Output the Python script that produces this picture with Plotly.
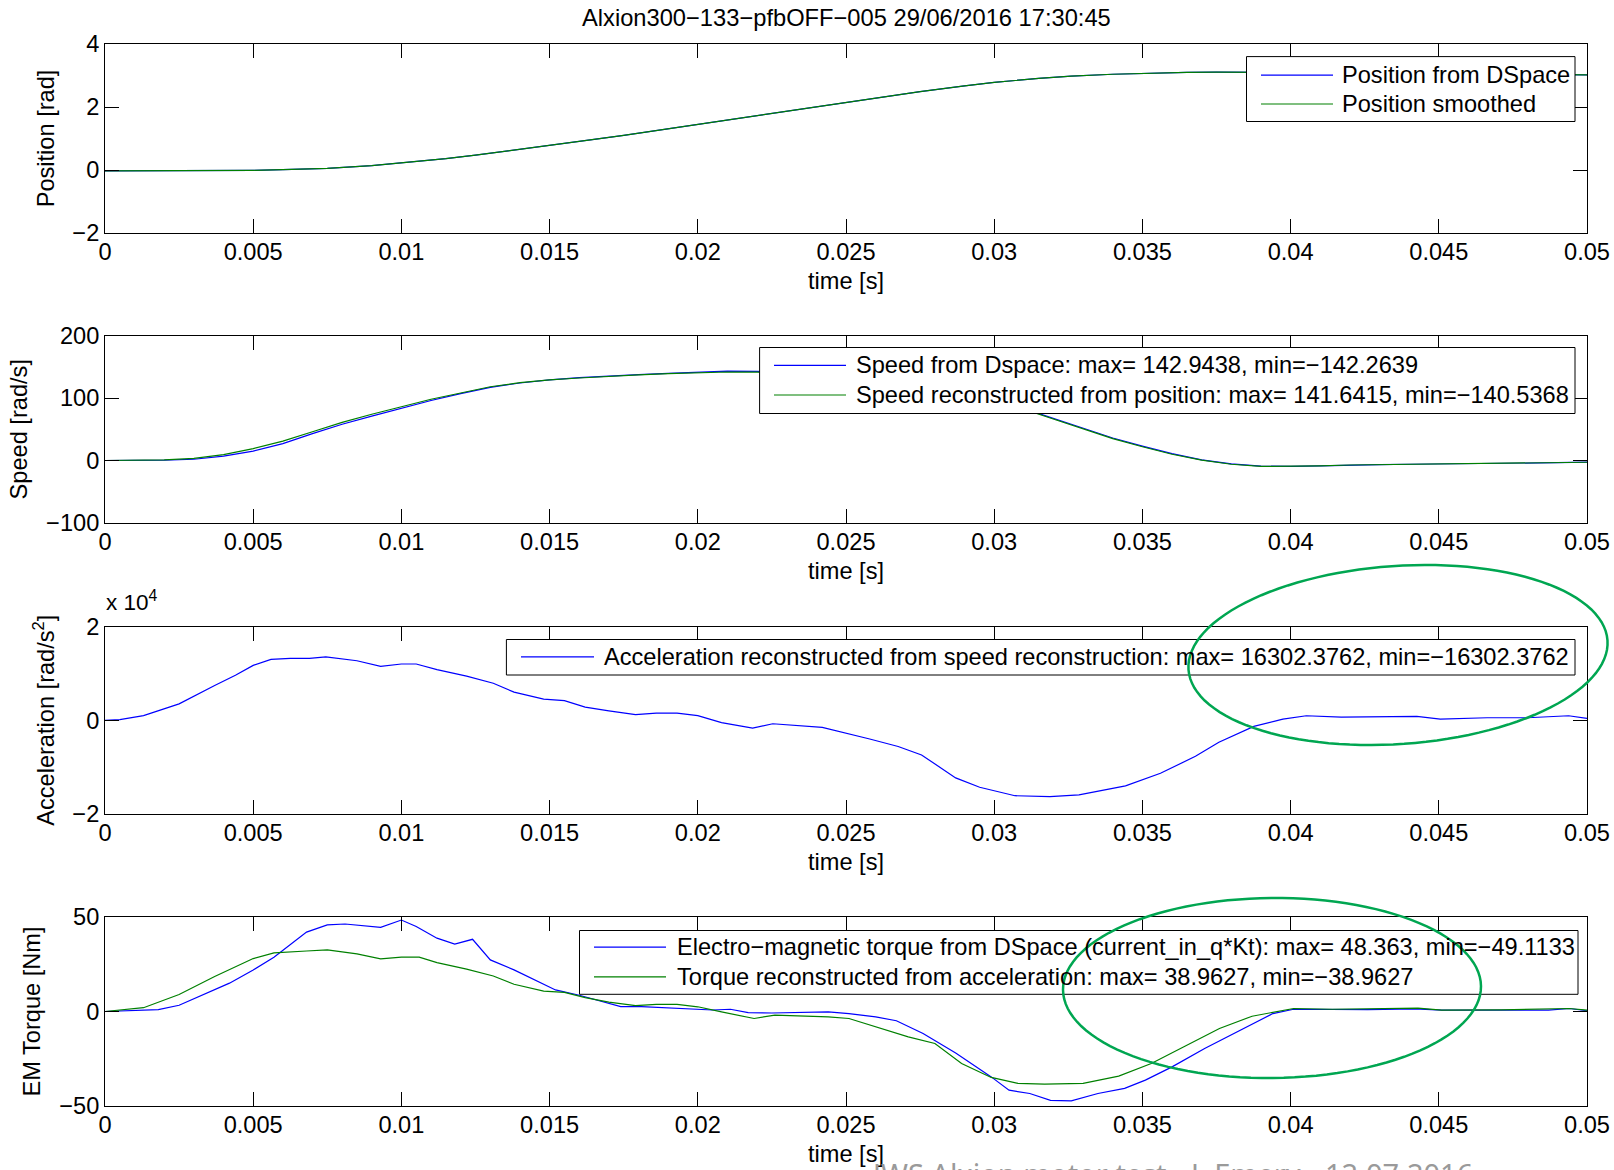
import numpy as np
import plotly.graph_objects as go

# ---------------- data ----------------
x_tickvals = [0, 0.005, 0.01, 0.015, 0.02, 0.025, 0.03, 0.035, 0.04, 0.045, 0.05]
x_ticktext = ["0", "0.005", "0.01", "0.015", "0.02", "0.025", "0.03", "0.035", "0.04", "0.045", "0.05"]

t_pos = [0, 0.002, 0.004, 0.005, 0.006, 0.0075, 0.009, 0.01, 0.0115, 0.0125, 0.014, 0.015,
         0.0165, 0.0175, 0.019, 0.02, 0.0215, 0.0233, 0.025, 0.0265, 0.0275, 0.029, 0.03,
         0.0315, 0.0326, 0.034, 0.035, 0.0365, 0.0375, 0.039, 0.04, 0.042, 0.044, 0.046, 0.048, 0.05]
pos_dspace = [-0.03, -0.03, -0.02, -0.01, 0.01, 0.05, 0.14, 0.22, 0.36, 0.47, 0.65, 0.77,
              0.97, 1.10, 1.31, 1.45, 1.66, 1.92, 2.16, 2.36, 2.49, 2.67, 2.78,
              2.91, 2.98, 3.04, 3.07, 3.10, 3.11, 3.10, 3.09, 3.075, 3.06, 3.04, 3.03, 3.02]
pos_smooth = [-0.03, -0.03, -0.02, -0.01, 0.01, 0.05, 0.14, 0.22, 0.36, 0.47, 0.65, 0.77,
              0.97, 1.10, 1.31, 1.45, 1.66, 1.92, 2.16, 2.36, 2.49, 2.67, 2.78,
              2.91, 2.98, 3.04, 3.07, 3.10, 3.11, 3.10, 3.09, 3.075, 3.06, 3.04, 3.03, 3.02]

t_spd = [0, 0.001, 0.002, 0.003, 0.004, 0.005, 0.006, 0.007, 0.008, 0.009,
         0.01, 0.011, 0.012, 0.013, 0.014, 0.015, 0.016, 0.017, 0.018, 0.019,
         0.02, 0.021, 0.022, 0.023, 0.024, 0.025, 0.026, 0.027, 0.028, 0.029,
         0.03, 0.031, 0.032, 0.033, 0.034, 0.035, 0.036, 0.037, 0.038, 0.039,
         0.04, 0.041, 0.042, 0.043, 0.044, 0.045, 0.046, 0.047, 0.048, 0.049, 0.05]
spd_dspace = [0, 0, 0.5, 2, 7, 15, 27, 43, 58, 71,
              84, 96, 107, 117, 124, 129, 132.5, 135.5, 137.5, 139.5,
              141.5, 142.9, 142.5, 141.5, 140, 137.5, 134, 129, 122, 112,
              99, 83, 67, 51, 36, 23, 11, 1, -5.5, -9,
              -9.5, -8.5, -7, -6.5, -6, -5.7, -5.3, -5, -4.5, -3.5, -2.6]
spd_recon = [0, 0.2, 1, 3.5, 9.5, 19, 31, 46, 61, 74,
             86, 98, 108, 118, 124.5, 129, 132, 135, 137, 139,
             140.5, 141.6, 141.3, 140.5, 139, 136.5, 133, 128, 121, 111,
             98, 82, 66, 50, 35, 22, 10, 0.5, -6, -9.5,
             -9.5, -8.5, -7.2, -6.6, -6, -5.7, -5.3, -5, -4.6, -3.6, -2.8]

t_acc = [0, 0.0005, 0.0013, 0.0025, 0.0037, 0.0044, 0.005, 0.0056, 0.00625, 0.0069, 0.00745,
         0.0085, 0.0093, 0.01, 0.0105, 0.0112, 0.0122, 0.0131, 0.0138, 0.0148, 0.0155, 0.0162,
         0.017, 0.0179, 0.0186, 0.0193, 0.02, 0.0208, 0.02185, 0.02253, 0.0242, 0.025, 0.0258,
         0.02676, 0.02755, 0.0287, 0.02951, 0.0307, 0.03188, 0.03286, 0.03443, 0.03561, 0.03679,
         0.03758, 0.03876, 0.03974, 0.04053, 0.04171, 0.04426, 0.04505, 0.04663, 0.048, 0.04938, 0.05]
acc_recon = [0, 140, 1000, 3500, 7400, 9600, 11700, 13000, 13200, 13200, 13500,
             12700, 11500, 12000, 12000, 10800, 9400, 7900, 6000, 4500, 4200, 2800,
             2000, 1200, 1500, 1500, 1000, -500, -1670, -750, -1530, -2700, -4000,
             -5600, -7400, -12300, -14300, -16100, -16300, -15900, -14000, -11300, -7700,
             -4700, -1300, 250, 960, 680, 820, 250, 530, 530, 960, 400]

t_trq_em = [0, 0.0018, 0.0025, 0.0033, 0.0042, 0.005, 0.0057, 0.0068, 0.0075, 0.0081, 0.0088,
            0.0093, 0.01, 0.0105, 0.0112, 0.0118, 0.0124, 0.013, 0.0138, 0.0145, 0.0152, 0.016,
            0.0167, 0.0174, 0.0181, 0.0191, 0.02, 0.0205, 0.0211, 0.0217, 0.0225, 0.0233, 0.0244,
            0.0251, 0.026, 0.0267, 0.0276, 0.0287, 0.0299, 0.0305, 0.0312, 0.0319, 0.0326, 0.0335,
            0.0344, 0.0351, 0.036, 0.0371, 0.0383, 0.0394, 0.0401, 0.0414, 0.0426, 0.0442, 0.0451,
            0.0471, 0.0487, 0.0494, 0.05]
trq_em = [0, 1, 3.3, 8.8, 15, 22, 28.7, 42, 45.8, 46.3, 45.4,
          44.5, 48.4, 45, 38.8, 35.7, 38.2, 27.3, 22, 16.7, 11.4, 8.6,
          5.8, 2.6, 2.6, 1.7, 1.2, 0.8, 1.2, -0.6, -0.8, -0.5, -0.2,
          -1.1, -2.8, -4.9, -11.6, -22, -34.6, -41.6, -43.4, -47, -47.3, -43.4,
          -40.7, -36.3, -29.3, -19.6, -9.9, -1.1, 1.2, 1.2, 1.0, 1.4, 0.7,
          0.7, 0.7, 1.6, 0.4]

t_trq_acc = [0, 0.0013, 0.0025, 0.0037, 0.005, 0.0057, 0.0068, 0.0075, 0.0085, 0.0093, 0.01,
             0.0106, 0.0112, 0.0122, 0.0131, 0.0138, 0.0148, 0.0155, 0.0162, 0.017, 0.0179,
             0.0186, 0.0193, 0.02, 0.0208, 0.0219, 0.0226, 0.0244, 0.0251, 0.026, 0.0271, 0.028,
             0.0289, 0.0299, 0.0308, 0.0317, 0.033, 0.0342, 0.0353, 0.0364, 0.0376, 0.0387,
             0.0401, 0.0414, 0.0443, 0.0451, 0.0471, 0.0494, 0.05]
trq_acc = [0, 2, 9, 18.5, 28, 31, 32, 32.6, 30.5, 27.9, 28.8,
           28.8, 25.9, 22.4, 18.8, 14.4, 10.8, 10.1, 7.3, 5, 3.1,
           3.8, 3.8, 2.5, -0.2, -3.7, -1.9, -2.8, -3.7, -8.1, -13.4, -16.9,
           -27.5, -34.9, -38, -38.4, -38, -34.2, -27.5, -18.7, -9, -2.5,
           1.6, 1.2, 1.8, 0.7, 0.9, 1.6, 0.7]

y1_ticks = [-2, 0, 2, 4];            y1_text = ["\u22122", "0", "2", "4"]
y2_ticks = [-100, 0, 100, 200];      y2_text = ["\u2212100", "0", "100", "200"]
y3_ticks = [-20000, 0, 20000];       y3_text = ["\u22122", "0", "2"]
y4_ticks = [-50, 0, 50];             y4_text = ["\u221250", "0", "50"]

title_text = "Alxion300\u2212133\u2212pfbOFF\u2212005 29/06/2016 17:30:45"
footer_text = "JWS Alxion motor test - J. Emery - 12.07.2016"

name_pos_ds = "Position from DSpace"
name_pos_sm = "Position smoothed"
name_spd_ds = "Speed from Dspace: max= 142.9438, min=\u2212142.2639"
name_spd_rc = "Speed reconstructed from position: max= 141.6415, min=\u2212140.5368"
name_acc = "Acceleration reconstructed from speed reconstruction: max= 16302.3762, min=\u221216302.3762"
name_trq_em = "Electro\u2212magnetic torque from DSpace (current_in_q*Kt): max= 48.363, min=\u221249.1133"
name_trq_ac = "Torque reconstructed from acceleration: max= 38.9627, min=\u221238.9627"

# ---------------- figure ----------------
W, H = 1614, 1170
ML, MR, MT, MB = 105, 27, 44, 64
PW, PH = W - ML - MR, H - MT - MB
FONT = "Liberation Sans, Arial, sans-serif"
FS = 23.6
BLUE = "rgb(0,0,255)"
GREEN = "rgb(0,128,0)"


def px(xpage):
    return (xpage - ML) / PW


def py(ypage):
    return (H - MB - ypage) / PH


domains = [(py(233), py(44)), (py(523), py(335.5)), (py(814), py(626.5)), (py(1106), py(917))]

fig = go.Figure()
series = [
    (1, t_pos, pos_dspace, BLUE, name_pos_ds),
    (1, t_pos, pos_smooth, GREEN, name_pos_sm),
    (2, t_spd, spd_dspace, BLUE, name_spd_ds),
    (2, t_spd, spd_recon, GREEN, name_spd_rc),
    (3, t_acc, acc_recon, BLUE, name_acc),
    (4, t_trq_em, trq_em, BLUE, name_trq_em),
    (4, t_trq_acc, trq_acc, GREEN, name_trq_ac),
]
for k, xs, ys, col, name in series:
    sfx = "" if k == 1 else str(k)
    fig.add_trace(go.Scatter(x=xs, y=ys, mode="lines", name=name, showlegend=False,
                             line=dict(color=col, width=1.2),
                             xaxis="x" + sfx, yaxis="y" + sfx))

ytick_sets = [(y1_ticks, y1_text, [-2, 4], "Position [rad]"),
              (y2_ticks, y2_text, [-100, 200], "Speed [rad/s]"),
              (y3_ticks, y3_text, [-20000, 20000], "Acceleration [rad/s<sup>2</sup>]"),
              (y4_ticks, y4_text, [-50, 50], "EM Torque [Nm]")]

layout = dict(
    width=W, height=H,
    margin=dict(l=ML, r=MR, t=MT, b=MB, autoexpand=False),
    paper_bgcolor="white", plot_bgcolor="white",
    font=dict(family=FONT, size=FS, color="black"),
    showlegend=False,
)
common_axis = dict(showline=True, linecolor="black", linewidth=1, mirror="ticks",
                   ticks="inside", ticklen=14, tickcolor="black", tickwidth=1,
                   showgrid=False, zeroline=False, automargin=False,
                   ticklabeloverflow="allow",
                   tickfont=dict(family=FONT, size=FS, color="black"))
for i, (dom, (tv, tt, rng, ttl)) in enumerate(zip(domains, ytick_sets)):
    k = i + 1
    sfx = "" if k == 1 else str(k)
    layout["xaxis" + sfx] = dict(common_axis, domain=[0, 1], range=[0, 0.05],
                                 anchor="y" + sfx, tickvals=x_tickvals, ticktext=x_ticktext,
                                 ticklabelstandoff=-2,
                                 title=dict(text="time [s]", standoff=8,
                                            font=dict(family=FONT, size=FS)))
    layout["yaxis" + sfx] = dict(common_axis, domain=list(dom), range=rng,
                                 anchor="x" + sfx, tickvals=tv, ticktext=tt,
                                 title=dict(text=ttl, standoff=11,
                                            font=dict(family=FONT, size=FS)))

annotations = [
    dict(text=title_text, x=px(846), y=py(17.5), xref="paper", yref="paper",
         xanchor="center", yanchor="middle", showarrow=False,
         font=dict(family=FONT, size=23.7, color="black")),
    dict(text="x 10<sup>4</sup>", x=px(104), y=py(617), xref="paper", yref="paper",
         xanchor="left", yanchor="bottom", showarrow=False,
         font=dict(family=FONT, size=22.5, color="black")),
    dict(text=footer_text, x=px(868), y=py(1152), xref="paper", yref="paper",
         xanchor="left", yanchor="top", showarrow=False,
         font=dict(family="Noto Sans, Open Sans, sans-serif", size=29, color="#9a9a9a")),
]

shapes = []
# MATLAB-style legend boxes: (box left, top, right, bottom, line x0, x1, text x, rows)
legend_boxes = [
    (1246.5, 56.6, 1575, 121.5, 1261, 1333, 1340,
     [(75.2, BLUE, name_pos_ds), (104.0, GREEN, name_pos_sm)]),
    (759.6, 347.5, 1575, 413.5, 774, 846, 854,
     [(365.4, BLUE, name_spd_ds), (395.0, GREEN, name_spd_rc)]),
    (506.4, 639.5, 1575, 675, 521, 594, 602,
     [(656.9, BLUE, name_acc)]),
    (579.5, 930.5, 1578, 994.3, 594, 666, 675,
     [(947.2, BLUE, name_trq_em), (976.8, GREEN, name_trq_ac)]),
]
for (bx0, by0, bx1, by1, lx0, lx1, tx, rows) in legend_boxes:
    shapes.append(dict(type="rect", xref="paper", yref="paper",
                       x0=px(bx0), x1=px(bx1), y0=py(by1), y1=py(by0),
                       fillcolor="white", line=dict(color="black", width=1), layer="above"))
    for (ry, col, txt) in rows:
        shapes.append(dict(type="line", xref="paper", yref="paper",
                           x0=px(lx0), x1=px(lx1), y0=py(ry), y1=py(ry),
                           line=dict(color=col, width=1.2), layer="above"))
        annotations.append(dict(text=txt, x=px(tx), y=py(ry), xref="paper", yref="paper",
                                xanchor="left", yanchor="middle", showarrow=False,
                                font=dict(family=FONT, size=FS, color="black")))


def ellipse_path(cx, cy, a, b, deg):
    th = np.linspace(0, 2 * np.pi, 121)
    r = np.deg2rad(deg)
    xs = cx + a * np.cos(th) * np.cos(r) + b * np.sin(th) * np.sin(r)
    ys = cy - a * np.cos(th) * np.sin(r) + b * np.sin(th) * np.cos(r)
    pts = [f"{px(x):.5f},{py(y):.5f}" for x, y in zip(xs, ys)]
    return "M" + " L".join(pts) + " Z"


shapes += [
    dict(type="path", xref="paper", yref="paper", path=ellipse_path(1398, 655, 210, 89, 4),
         line=dict(color="#00A651", width=2.5), layer="above"),
    dict(type="path", xref="paper", yref="paper", path=ellipse_path(1272, 988, 209, 90, 0.5),
         line=dict(color="#00A651", width=2.5), layer="above"),
]
layout["shapes"] = shapes
layout["annotations"] = annotations

fig.update_layout(**layout)
fig.write_html("out.html", config={"displayModeBar": False},
               post_script="document.body.style.margin='0';document.body.style.overflow='hidden';")
